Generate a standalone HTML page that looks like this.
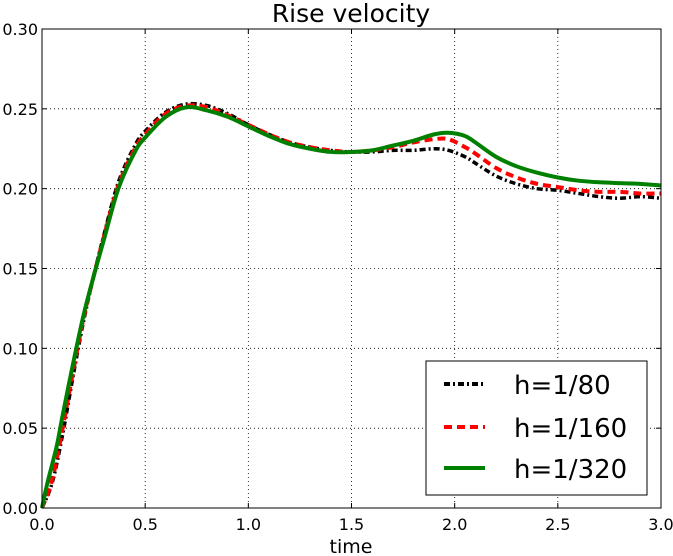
<!DOCTYPE html>
<html><head><meta charset="utf-8"><style>
body{margin:0;background:#fff;}
svg{display:block;font-family:"DejaVu Sans","Liberation Sans",sans-serif;}
</style></head><body>
<svg id="chart" width="673" height="556" viewBox="0 0 673 556" xmlns="http://www.w3.org/2000/svg">
<rect width="673" height="556" fill="#fff"/>
<g id="grid"></g>
<g id="series"></g>
<rect x="42" y="29" width="619" height="479" fill="none" stroke="#000" stroke-width="1"/>
<g id="ticks"></g>
<text x="351" y="22" font-size="25" text-anchor="middle">Rise velocity</text>
<text x="351" y="553" font-size="19" text-anchor="middle">time</text>
<g>
<rect x="426" y="361" width="221" height="134" fill="#fff" stroke="#000" stroke-width="1"/>
<line x1="444" y1="384" x2="485" y2="384" stroke="#000" stroke-width="4" stroke-dasharray="6,3,2,3"/>
<text x="514" y="394" font-size="26">h=1/80</text>
<line x1="444" y1="427" x2="485" y2="427" stroke="#f00" stroke-width="4" stroke-dasharray="8,5"/>
<text x="514" y="437" font-size="26">h=1/160</text>
<line x1="444" y1="468" x2="485" y2="468" stroke="#008000" stroke-width="4"/>
<text x="514" y="478" font-size="26">h=1/320</text>
</g>
</svg>
<script>
const xTicks=[0,0.5,1.0,1.5,2.0,2.5,3.0];
const yTicks=[0,0.05,0.10,0.15,0.20,0.25,0.30];
const tGreen=[0,0.025,0.07,0.1,0.15,0.2,0.25,0.3,0.37,0.45,0.5,0.6,0.7,0.8,0.9,1.0,1.1,1.2,1.3,1.4,1.5,1.6,1.7,1.8,1.9,1.97,2.05,2.1,2.2,2.3,2.4,2.5,2.6,2.7,2.8,2.9,3.0];
const vGreen=[0,0.015,0.038,0.058,0.09,0.12,0.145,0.168,0.2,0.223,0.232,0.245,0.251,0.249,0.245,0.239,0.233,0.228,0.225,0.223,0.223,0.224,0.227,0.230,0.234,0.235,0.233,0.229,0.220,0.214,0.210,0.207,0.205,0.204,0.2035,0.203,0.202];
const tRed=[0,0.05,0.1,0.15,0.2,0.25,0.3,0.37,0.45,0.5,0.6,0.7,0.8,0.9,1.0,1.1,1.2,1.3,1.4,1.5,1.6,1.7,1.8,1.9,1.97,2.05,2.1,2.2,2.3,2.4,2.5,2.6,2.7,2.8,2.9,3.0];
const vRed=[0,0.018,0.05,0.085,0.118,0.145,0.17,0.202,0.225,0.234,0.247,0.252,0.251,0.246,0.240,0.234,0.229,0.226,0.224,0.223,0.224,0.226,0.229,0.231,0.231,0.226,0.222,0.213,0.207,0.203,0.201,0.199,0.198,0.198,0.197,0.197];
const tBlack=[0,0.05,0.1,0.15,0.2,0.25,0.3,0.37,0.45,0.5,0.6,0.7,0.8,0.9,1.0,1.1,1.2,1.3,1.4,1.5,1.6,1.7,1.8,1.9,1.97,2.05,2.1,2.2,2.3,2.4,2.5,2.6,2.7,2.8,2.9,3.0];
const vBlack=[0,0.016,0.046,0.082,0.116,0.145,0.171,0.204,0.227,0.236,0.248,0.253,0.252,0.247,0.240,0.234,0.229,0.226,0.224,0.223,0.223,0.224,0.224,0.225,0.224,0.220,0.216,0.208,0.203,0.200,0.199,0.197,0.195,0.194,0.195,0.194];
const X0=42,X1=661,Y0=508,Y1=29;
function sx(t){return X0+(t-0)/(3-0)*(X1-X0);}
function sy(v){return Y0-(v-0)/(0.3-0)*(Y0-Y1);}
const NS="http://www.w3.org/2000/svg";
const grid=document.getElementById('grid'),ticks=document.getElementById('ticks'),series=document.getElementById('series');
function mk(tag,attrs,parent){const e=document.createElementNS(NS,tag);for(const k in attrs)e.setAttribute(k,attrs[k]);parent.appendChild(e);return e;}
xTicks.forEach(t=>{
  const x=sx(t);
  if(t>0&&t<3){const g=mk('line',{x1:x,y1:Y1,x2:x,y2:Y0,stroke:'#000','stroke-width':0.8,'stroke-dasharray':'1,3'},grid);
  
  }
  mk('line',{x1:x,y1:Y0,x2:x,y2:Y0-5,stroke:'#000'},ticks);
  mk('line',{x1:x,y1:Y1,x2:x,y2:Y1+5,stroke:'#000'},ticks);
  const l=mk('text',{x:x,y:Y0+22,'font-size':16,'text-anchor':'middle'},ticks);
  l.textContent=t.toFixed(1);
  
  
});
yTicks.forEach(v=>{
  const y=sy(v);
  if(v>0&&v<0.3){const g=mk('line',{x1:X0,y1:y,x2:X1,y2:y,stroke:'#000','stroke-width':0.8,'stroke-dasharray':'1,3'},grid);
  
  }
  mk('line',{x1:X0,y1:y,x2:X0+5,y2:y,stroke:'#000'},ticks);
  mk('line',{x1:X1,y1:y,x2:X1-5,y2:y,stroke:'#000'},ticks);
  const l=mk('text',{x:X0-4,y:y+6,'font-size':16,'text-anchor':'end'},ticks);
  l.textContent=v.toFixed(2);
  
  
});
function pathD(ts,vs){
  const p=ts.map((t,i)=>[sx(t),sy(vs[i])]);
  let d='M'+p[0][0]+','+p[0][1];
  for(let i=0;i<p.length-1;i++){
    const p0=p[Math.max(0,i-1)],p1=p[i],p2=p[i+1],p3=p[Math.min(p.length-1,i+2)];
    const c1=[p1[0]+(p2[0]-p0[0])/6,p1[1]+(p2[1]-p0[1])/6];
    const c2=[p2[0]-(p3[0]-p1[0])/6,p2[1]-(p3[1]-p1[1])/6];
    d+=' C'+c1+' '+c2+' '+p2;
  }
  return d;
}
const b=mk('path',{d:pathD(tBlack,vBlack),fill:'none',stroke:'#000','stroke-width':3.5,'stroke-dasharray':'6,3,2,3'},series);


const r=mk('path',{d:pathD(tRed,vRed),fill:'none',stroke:'#f00','stroke-width':4,'stroke-dasharray':'8,5'},series);


const g=mk('path',{d:pathD(tGreen,vGreen),fill:'none',stroke:'#008000','stroke-width':4},series);


</script>
</body></html>
